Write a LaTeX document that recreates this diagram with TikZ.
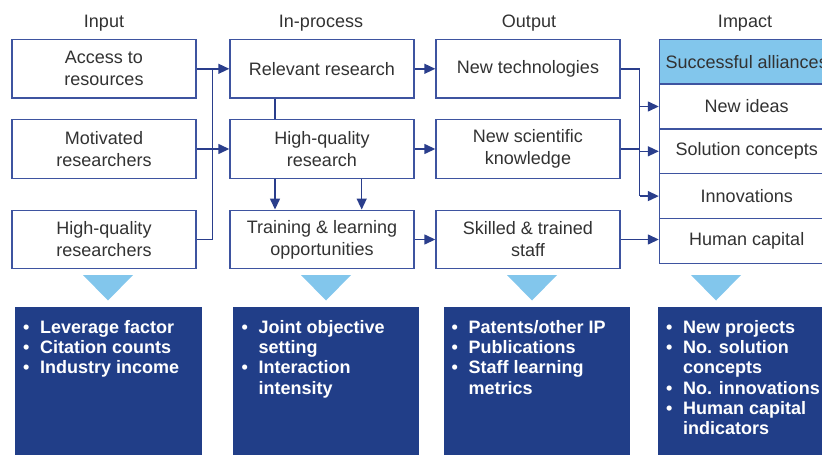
\documentclass[tikz,border=0pt]{standalone}
\usepackage{fontspec}
\setmainfont{Liberation Sans}
\usetikzlibrary{arrows.meta}
\definecolor{bord}{RGB}{62,84,160}
\definecolor{lin}{RGB}{42,62,140}
\definecolor{navy}{RGB}{33,62,136}
\definecolor{sky}{RGB}{130,198,236}
\definecolor{txt}{RGB}{50,50,50}
\newcommand\itm[1]{\makebox[17pt][l]{\textbullet}#1}
\newcommand\cnt[1]{\makebox[17pt]{}#1}
\begin{document}
\begin{tikzpicture}[x=1pt,y=-1pt,
 box/.style={draw=bord, line width=1.4pt, fill=white, minimum width=184pt, minimum height=58.5pt, align=center, font=\fontsize{18}{22}\selectfont, text=txt, inner sep=0pt},
 ibox/.style={draw=bord, line width=1.4pt, minimum width=174.5pt, minimum height=44.8pt, font=\fontsize{18}{22}\selectfont, text=txt, inner sep=0pt},
 head/.style={font=\fontsize{18}{22}\selectfont, text=txt, anchor=base},
 conn/.style={draw=lin, line width=1.4pt},
 arr/.style={conn, -{Triangle[length=11pt,width=10pt]}},
 tri/.style={fill=sky},
 panel/.style={fill=navy},
 bul/.style={anchor=north west, inner sep=0pt, align=left, text=white, font=\bfseries\fontsize{18}{20.2}\selectfont}
]
\useasboundingbox (0,0) rectangle (822,455);
\clip (0,0) rectangle (822,455);

% headers
\node[head] (h1) at (104,27.5) {Input};
\node[head] (h2) at (321,27.5) {In-process};
\node[head] (h3) at (529,27.5) {Output};
\node[head] (h4) at (745,27.5) {Impact};

% input
\node[box] (a1) at (104,68.8) {Access to\\resources};
\node[box] (a2) at (104,149) {Motivated\\researchers};
\node[box] (a3) at (104,239.5) {High-quality\\researchers};
% in-process
\node[box] (p1) at (322,68.8) {Relevant research};
\node[box] (p2) at (322,149) {High-quality\\research};
\node[box] (p3) at (322,239.5) {Training \& learning\\opportunities};
% output
\node[box] (o1) at (528,68.8) {New technologies};
\node[box] (o2) at (528,149) {New scientific\\knowledge};
\node[box] (o3) at (528,239.5) {Skilled \& trained\\staff};
% impact
\node[ibox, fill=sky] (i1) at (746.75,61.7) {Successful alliances};
\node[ibox, fill=white] (i2) at (746.75,106.5) {New ideas};
\node[ibox, fill=white] (i3) at (746.75,151.3) {Solution concepts};
\node[ibox, fill=white] (i4) at (746.75,196.1) {Innovations};
\node[ibox, fill=white] (i5) at (746.75,240.9) {Human capital};

% connectors
\coordinate (bi) at (212.7,0);
\draw[conn] (a1.east) -- (a1.east -| bi) -- (a3.east -| bi) -- (a3.east);
\draw[arr] (a1.east -| bi) -- (p1.west);
\draw[arr] (a2.east) -- (p2.west);

\coordinate (pl) at (275,0);
\coordinate (pr) at (361.7,0);
\draw[conn] (p1.south -| pl) -- (p2.north -| pl);
\draw[arr] (p2.south -| pl) -- (p3.north -| pl);
\draw[arr] (p2.south -| pr) -- (p3.north -| pr);

\draw[arr] (p1.east) -- (o1.west);
\draw[arr] (p2.east) -- (o2.west);
\draw[arr] (p3.east) -- (o3.west);

\coordinate (bo) at (639.5,0);
\draw[conn] (o1.east) -- (o1.east -| bo) -- (i4.west -| bo);
\draw[conn] (o2.east) -- (o2.east -| bo);
\draw[arr] (i2.west -| bo) -- (i2.west);
\draw[arr] (i3.west -| bo) -- (i3.west);
\draw[arr] (i4.west -| bo) -- (i4.west);
\draw[arr] (o3.east) -- (o3.east -| i5.west);

% triangles
\fill[tri] (83,275) -- (133,275) -- (108,300.5) -- cycle;
\fill[tri] (301,275) -- (351,275) -- (326,300.5) -- cycle;
\fill[tri] (507,275) -- (557,275) -- (532,300.5) -- cycle;
\fill[tri] (691,275) -- (741,275) -- (716,300.5) -- cycle;

% metric panels
\fill[panel] (15,307.3) rectangle (201.7,460);
\fill[panel] (233,307.3) rectangle (419.3,460);
\fill[panel] (444.3,307.3) rectangle (630,460);
\fill[panel] (658.3,307.3) rectangle (840,460);

\node[bul] (m1) at (23,319.2) {\itm{\strut Leverage factor}\\\itm{Citation counts}\\\itm{Industry income}};
\node[bul] (m2) at (241.5,319.2) {\itm{\strut Joint objective}\\\cnt{setting}\\\itm{Interaction}\\\cnt{intensity}};
\node[bul] (m3) at (451.5,319.2) {\itm{\strut Patents/other IP}\\\itm{Publications}\\\itm{Staff learning}\\\cnt{metrics}};
\node[bul] (m4) at (666,319.2) {\itm{\strut New projects}\\\itm{No. solution}\\\cnt{concepts}\\\itm{No. innovations}\\\itm{Human capital}\\\cnt{indicators}};
\end{tikzpicture}
\end{document}
